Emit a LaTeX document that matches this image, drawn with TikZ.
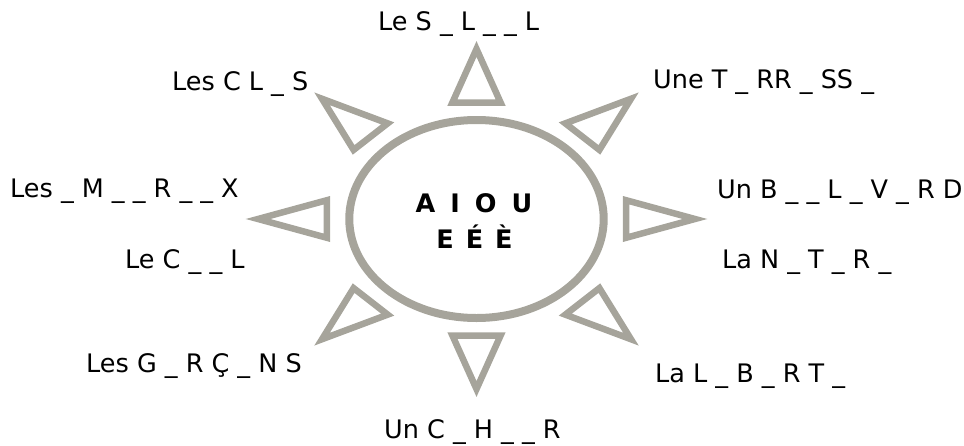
\documentclass[tikz,border=0pt]{standalone}
\usepackage{fontspec}
\setmainfont{DejaVu Sans}
\usepackage{xcolor}
\definecolor{sungrey}{RGB}{166,164,155}
\tikzset{ray/.style = {draw=sungrey, line width=6.5pt, line join=miter}}
\tikzset{rim/.style = {draw=sungrey, line width=8pt}}
\tikzset{word/.style = {anchor=base west, inner sep=0, font=\fontsize{25.5}{30}\selectfont}}
\tikzset{vowel/.style = {anchor=base, inner sep=0, font=\fontsize{25.5}{30}\selectfont\bfseries}}

\begin{document}
\begin{tikzpicture}[x=1pt, y=-1pt]
      \useasboundingbox (0,0) rectangle (964,445);
      % sun
      \begin{scope}[shift={(476.5,219)}, xscale=1.285]
        \draw[rim] (0,0) circle (99);
        \draw[ray, rotate=0]   (-18.75,-116.5) -- (0,-170) -- (18.75,-116.5) -- cycle;
        \draw[ray, rotate=45]  (-18.75,-116.5) -- (0,-170) -- (18.75,-116.5) -- cycle;
        \draw[ray, rotate=90]  (-18.75,-116.5) -- (0,-170) -- (18.75,-116.5) -- cycle;
        \draw[ray, rotate=135] (-18.75,-116.5) -- (0,-170) -- (18.75,-116.5) -- cycle;
        \draw[ray, rotate=180] (-18.75,-116.5) -- (0,-170) -- (18.75,-116.5) -- cycle;
        \draw[ray, rotate=225] (-18.75,-116.5) -- (0,-170) -- (18.75,-116.5) -- cycle;
        \draw[ray, rotate=270] (-18.75,-116.5) -- (0,-170) -- (18.75,-116.5) -- cycle;
        \draw[ray, rotate=315] (-18.75,-116.5) -- (0,-170) -- (18.75,-116.5) -- cycle;
      \end{scope}
      % vowels
      \node[vowel] (aiou) at (474,212) {A\hspace{15pt}I\hspace{15pt}O\hspace{15pt}U};
      \node[vowel] (eee) at (474.5,248) {E\hspace{12pt}É\hspace{12pt}È};
      % words
      \node[word] (soleil) at (378,30) {Le S \_ L \_ \_ L};
      \node[word] (cils) at (172,90) {Les C L \_ S};
      \node[word] (terrasse) at (653,88) {Une T \_ RR \_ SS \_};
      \node[word] (animaux) at (10,197) {Les \_ M \_ \_ R \_ \_ X};
      \node[word] (ciel) at (125,268) {Le C \_ \_ L};
      \node[word] (boulevard) at (717,198) {Un B \_ \_ L \_ V \_ R D};
      \node[word] (nature) at (722,268) {La N \_ T \_ R \_};
      \node[word] (liberte) at (655,382) {La L \_ B \_ R T \_};
      \node[word] (garcons) at (86,372) {Les G \_ R Ç \_ N S};
      \node[word] (coeur) at (384,438) {Un C \_ H \_ \_ R};
    \end{tikzpicture}
\end{document}
